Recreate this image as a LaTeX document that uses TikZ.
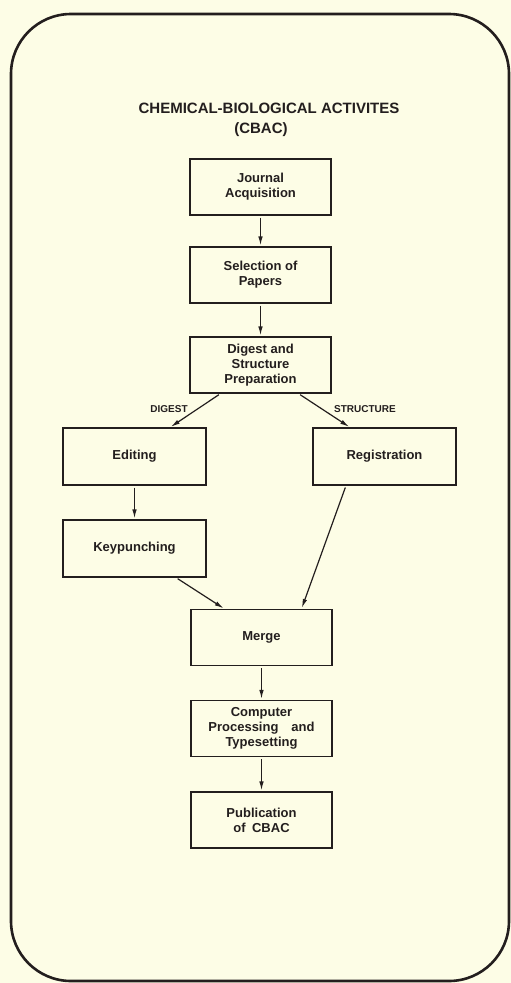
\documentclass[tikz,border=0pt]{standalone}
\usepackage{fontspec}
\setmainfont{Liberation Sans}
\usetikzlibrary{arrows.meta}
\definecolor{paper}{RGB}{253,253,230}
\definecolor{ink}{RGB}{35,30,30}

\begin{document}
\begin{tikzpicture}[x=1pt,y=-1pt,>={Latex[length=9pt,width=4.5pt]},shorten >=1pt,shorten <=2pt]
    \tikzstyle{stage}=[draw=ink,line width=1.2pt,minimum width=141pt,minimum height=56pt,inner sep=0pt,align=center,text=ink,font=\bfseries\fontsize{13}{15}\selectfont]
    \tikzstyle{sidestage}=[stage,minimum width=143pt,minimum height=57pt]
    \tikzstyle{lbl}=[text=ink,inner sep=1pt,font=\bfseries\fontsize{10}{11}\selectfont]
    \tikzstyle{flow}=[->,draw=ink,line width=1.2pt]
    \fill[paper] (0,0) rectangle (511,983);
    \useasboundingbox (0,0) rectangle (511,983);
    \draw[ink,line width=2.6pt,rounded corners=60pt] (11,14) rectangle (509,981);
    % title
    \node[text=ink,font=\bfseries\fontsize{15}{16}\selectfont] (title) at (269,108) {CHEMICAL-BIOLOGICAL ACTIVITES};
    \node[text=ink,font=\bfseries\fontsize{15}{16}\selectfont] (cbac) at (261,130) {(CBAC)};
    % stages
    \node[stage] (journal) at (260.5,187) {Journal\\Acquisition};
    \node[stage] (select) at (260.5,275) {Selection of\\Papers};
    \node[stage] (digest) at (260.5,365) {Digest and\\Structure\\Preparation};
    \node[sidestage] (edit) at (134.5,456.5) {Editing};
    \node[sidestage] (regist) at (384.5,456.5) {Registration};
    \node[sidestage] (keypunch) at (134.5,548.5) {Keypunching};
    \node[stage] (merge) at (261.5,637.5) {Merge};
    \node[stage] (comp) at (261.5,728.5) {Computer\\Processing\quad and\\Typesetting};
    \node[stage] (publ) at (261.5,820) {Publication\\of\enspace CBAC};
    \node[lbl] (dlbl) at (169,409) {DIGEST};
    \node[lbl] (slbl) at (365,409) {STRUCTURE};
    % connectors
    \draw[flow] (journal) -- (select);
    \draw[flow] (select) -- (digest);
    \draw[flow] ([xshift=-40pt]digest.south) -- ([xshift=35.5pt]edit.north);
    \draw[flow] ([xshift=38pt]digest.south) -- ([xshift=-34.5pt]regist.north);
    \draw[flow] (edit) -- (keypunch);
    \draw[flow] ([xshift=41.5pt]keypunch.south) -- ([xshift=-37pt]merge.north);
    \draw[flow] ([xshift=-38.5pt]regist.south) -- ([xshift=40pt]merge.north);
    \draw[flow] (merge) -- (comp);
    \draw[flow] (comp) -- (publ);
\end{tikzpicture}
\end{document}
